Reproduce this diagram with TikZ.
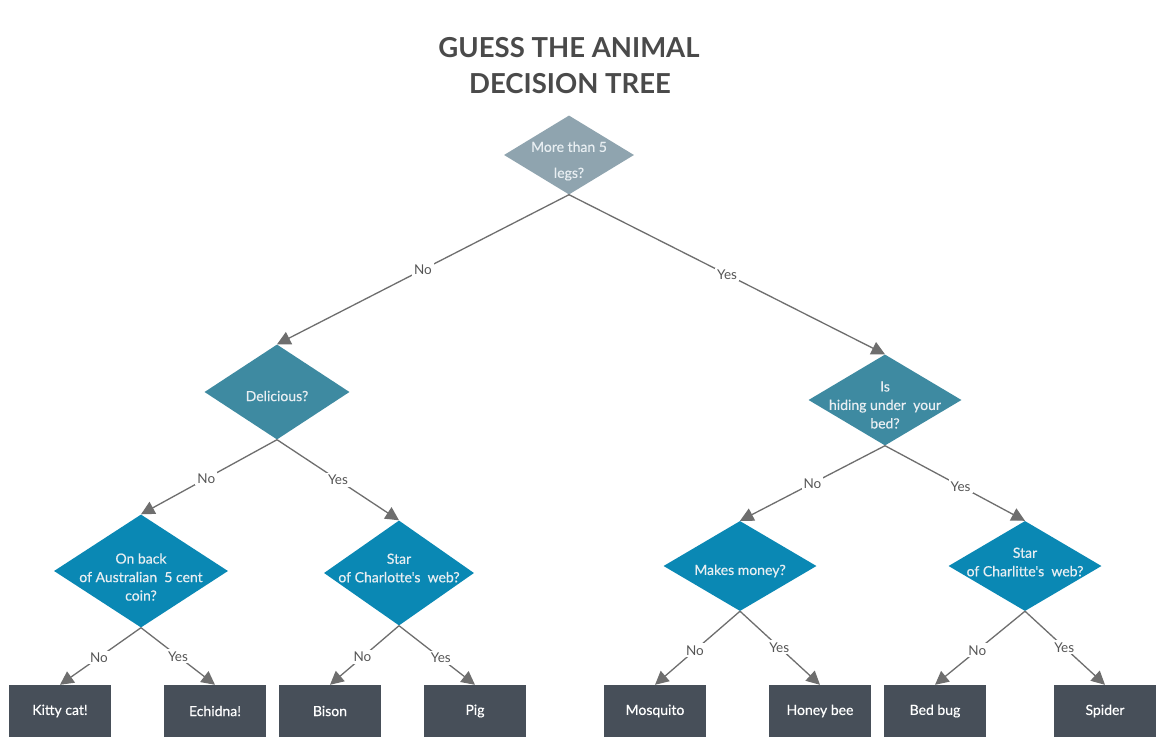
\documentclass[tikz,border=0pt]{standalone}
\usepackage{fontspec}
\setmainfont{Lato}
\newfontfamily\medfont[FakeBold=0.35]{Lato}
\usetikzlibrary{shapes.geometric,arrows.meta}
\definecolor{rootc}{HTML}{8FA4AF}
\definecolor{midc}{HTML}{3E8AA1}
\definecolor{lowc}{HTML}{0A88B4}
\definecolor{boxc}{HTML}{474F59}
\definecolor{linec}{HTML}{6E6E6E}
\definecolor{labc}{HTML}{555555}
\definecolor{titc}{HTML}{4A4A4A}
\definecolor{dtxt}{HTML}{E8EEF2}
\begin{document}
\begin{tikzpicture}[x=1pt,y=-1pt,
  dia/.style n args={3}{diamond, draw=none, fill=#3, inner sep=0pt, minimum width=#1, minimum height=#2},
  dtext/.style={text=dtxt, align=center, inner sep=0pt, font=\medfont\fontsize{14}{18.5}\selectfont},
  leaf/.style={rectangle, draw=none, fill=boxc, minimum width=102pt, minimum height=52pt, inner sep=0pt, text=white, font=\medfont\fontsize{14}{16}\selectfont},
  edge/.style={draw=linec, line width=1.3pt, -{Triangle[length=13.5pt,width=13.5pt]}},
  lab/.style={fill=white, text=labc, inner sep=2pt, font=\fontsize{13.5}{15}\selectfont},
  titlef/.style={text=titc, inner sep=0pt, font=\fontsize{27.5}{30}\selectfont\bfseries}]
\useasboundingbox (0,0) rectangle (1172,746);
\fill[white] (0,0) rectangle (1172,746);

% title
\node[titlef] (t1) at (569,48) {GUESS THE ANIMAL};
\node[titlef] (t2) at (570,84) {DECISION TREE};

% diamonds
\node[dia={130pt}{79pt}{rootc}] (root) at (569,155) {};
\node[dtext, font=\medfont\fontsize{14}{26}\selectfont] (roott) at (569,161) {More than 5\\legs?};

\node[dia={145pt}{95pt}{midc}] (del) at (277,392) {};
\node[dtext] (delt) at (277,396) {Delicious?};

\node[dia={153pt}{91pt}{midc}] (hid) at (885,400) {};
\node[dtext] (hidt) at (885,405) {Is\\hiding under\ \ your\\bed?};

\node[dia={174pt}{113pt}{lowc}] (coin) at (141,571) {};
\node[dtext] (coint) at (141,577) {On back\\of Australian\ \ 5 cent\\coin?};

\node[dia={150pt}{105pt}{lowc}] (star) at (399,573) {};
\node[dtext] (start) at (399,568) {Star\\of Charlotte's\ \ web?};

\node[dia={153pt}{90pt}{lowc}] (money) at (740,566) {};
\node[dtext] (moneyt) at (740,571) {Makes money?};

\node[dia={153pt}{90pt}{lowc}] (star2) at (1025,566) {};
\node[dtext] (star2t) at (1025,562) {Star\\of Charlitte's\ \ web?};

% leaves
\node[leaf] (kitty) at (60,711) {Kitty cat!};
\node[leaf] (echidna) at (215,711) {Echidna!};
\node[leaf] (bison) at (330,711) {Bison};
\node[leaf] (pig) at (475,711) {Pig};
\node[leaf] (mosq) at (655,711) {Mosquito};
\node[leaf] (bee) at (820,711) {Honey bee};
\node[leaf] (bedbug) at (935,711) {Bed bug};
\node[leaf] (spider) at (1105,711) {Spider};

% edges
\draw[edge] (root.south) -- node[lab,pos=0.5] (l1) {No} (del.north);
\draw[edge] (root.south) -- node[lab,pos=0.5] (l2) {Yes} (hid.north);

\draw[edge] (del.south) -- node[lab,pos=0.52] (l3) {No} (coin.north);
\draw[edge] (del.south) -- node[lab,pos=0.5] (l4) {Yes} (star.north);

\draw[edge] (hid.south) -- node[lab,pos=0.5] (l5) {No} (money.north);
\draw[edge] (hid.south) -- node[lab,pos=0.54] (l6) {Yes} (star2.north);

\draw[edge] (coin.south) -- node[lab,pos=0.52] (l7) {No} (kitty.north);
\draw[edge] (coin.south) -- node[lab,pos=0.5] (l8) {Yes} (echidna.north);

\draw[edge] (star.south) -- node[lab,pos=0.53] (l9) {No} (bison.north);
\draw[edge] (star.south) -- node[lab,pos=0.55] (l10) {Yes} (pig.north);

\draw[edge] (money.south) -- node[lab,pos=0.53] (l11) {No} (mosq.north);
\draw[edge] (money.south) -- node[lab,pos=0.49] (l12) {Yes} (bee.north);

\draw[edge] (star2.south) -- node[lab,pos=0.53] (l13) {No} (bedbug.north);
\draw[edge] (star2.south) -- node[lab,pos=0.49] (l14) {Yes} (spider.north);
\end{tikzpicture}
\end{document}
